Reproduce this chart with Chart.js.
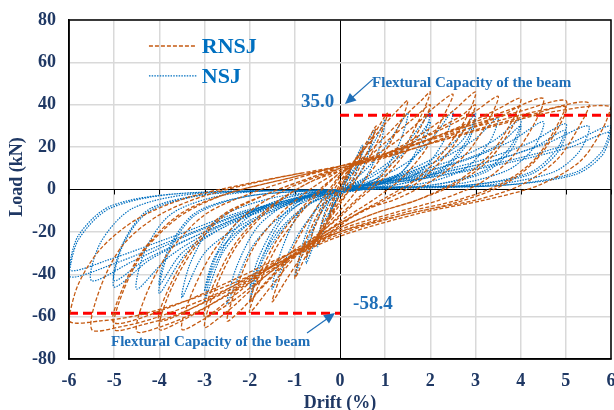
<!DOCTYPE html>
<html>
<head>
<meta charset="utf-8">
<script src="https://cdn.jsdelivr.net/npm/chart.js@4.4.1/dist/chart.umd.min.js"></script>
<style>
  html, body { margin: 0; padding: 0; background: #fff; }
</style>
</head>
<body>
<canvas id="myCanvas" width="614" height="410"></canvas>
<script>
// axis ticks
const driftTicks = [-6, -5, -4, -3, -2, -1, 0, 1, 2, 3, 4, 5, 6];
const loadTicks = [-80, -60, -40, -20, 0, 20, 40, 60, 80];

// RNSJ hysteresis cycles, [drift %, load kN]
const rnsj1 = [[0,0],[0.1,5],[0.25,11],[0.15,5],[0,-2],[-0.1,-7],[-0.25,-14],[-0.15,-6],[0,1]];
const rnsj2 = [[0,1],[0.25,10],[0.5,19],[0.35,10],[0.15,2],[0,-5],[-0.25,-14],[-0.5,-24],[-0.35,-13],[-0.15,-4],[0,3]];
const rnsj3 = [[0,3],[0.3,13],[0.55,21],[0.8,30],[0.65,20],[0.4,9],[0.1,-3],[-0.2,-11],[-0.5,-22],[-0.75,-32],[-0.6,-20],[-0.35,-8],[-0.1,1],[0,4]];
const rnsj4 = [[0,4],[0.4,15],[0.75,26],[1.05,36],[0.9,26],[0.6,13],[0.3,3],[0,-7],[-0.4,-19],[-0.75,-31],[-1.0,-42],[-0.85,-29],[-0.55,-14],[-0.25,-2],[0,6]];
const rnsj5 = [[0,6],[0.5,18],[1.0,31],[1.3,38],[1.5,42],[1.35,32],[1.0,18],[0.6,6],[0.2,-5],[-0.3,-17],[-0.8,-30],[-1.2,-43],[-1.5,-53],[-1.3,-40],[-0.95,-24],[-0.5,-8],[0,7]];
const rnsj6 = [[0,7],[0.5,15],[1.0,25],[1.5,36],[1.8,42],[2.0,46],[1.8,35],[1.4,19],[0.9,6],[0.4,-4],[0,-12],[-0.5,-22],[-1.0,-32],[-1.5,-45],[-2.0,-58],[-1.8,-45],[-1.4,-27],[-0.9,-12],[-0.4,0],[0,8]];
const rnsj6b = [[0,8],[0.6,15],[1.1,24],[1.6,33],[2.0,40],[1.8,30],[1.4,16],[0.9,4],[0.4,-5],[0,-13],[-0.6,-23],[-1.2,-34],[-1.7,-45],[-2.0,-53],[-1.8,-41],[-1.4,-24],[-0.9,-10],[-0.4,1],[0,8]];
const rnsj7 = [[0,8],[0.6,14],[1.2,22],[1.7,31],[2.1,39],[2.5,45],[2.3,35],[1.9,19],[1.4,6],[0.8,-4],[0,-15],[-0.6,-25],[-1.2,-35],[-1.8,-48],[-2.2,-57],[-2.5,-62],[-2.3,-47],[-1.9,-27],[-1.3,-11],[-0.6,1],[0,9]];
const rnsj8 = [[0,9],[0.7,14],[1.4,21],[2.0,29],[2.5,37],[3.0,46],[2.8,34],[2.3,18],[1.7,5],[1.0,-4],[0,-16],[-0.8,-27],[-1.6,-40],[-2.3,-54],[-2.7,-61],[-3.0,-65],[-2.8,-49],[-2.3,-27],[-1.6,-10],[-0.8,2],[0,9]];
const rnsj8b = [[0,9],[0.8,15],[1.5,21],[2.2,29],[2.7,35],[3.0,40],[2.8,30],[2.3,15],[1.7,3],[1.0,-5],[0,-16],[-0.9,-27],[-1.7,-39],[-2.4,-51],[-3.0,-60],[-2.8,-45],[-2.3,-25],[-1.6,-9],[-0.8,2],[0,10]];
const rnsj9 = [[0,10],[0.8,15],[1.6,22],[2.4,30],[3.0,37],[3.5,44],[3.3,33],[2.8,17],[2.1,5],[1.3,-4],[0.5,-10],[0,-17],[-0.8,-28],[-1.6,-40],[-2.4,-53],[-3.0,-61],[-3.5,-66],[-3.3,-50],[-2.8,-29],[-2.1,-12],[-1.2,0],[0,10]];
const rnsj10 = [[0,10],[1.0,16],[2.0,24],[2.8,31],[3.5,38],[4.0,43],[3.8,32],[3.3,16],[2.6,4],[1.7,-5],[0.8,-11],[0,-18],[-1.0,-30],[-2.0,-43],[-3.0,-56],[-3.6,-63],[-4.0,-66],[-3.8,-50],[-3.3,-30],[-2.6,-13],[-1.6,-2],[-0.6,6],[0,10]];
const rnsj10b = [[0,10],[1.0,15],[2.0,22],[3.0,30],[3.6,35],[4.0,39],[3.8,29],[3.3,14],[2.6,3],[1.7,-5],[0.8,-11],[0,-18],[-1.0,-29],[-2.0,-41],[-3.0,-53],[-4.0,-62],[-3.8,-47],[-3.3,-28],[-2.6,-12],[-1.6,-2],[-0.6,6],[0,11]];
const rnsj11 = [[0,11],[1.0,17],[2.0,24],[3.0,32],[3.8,38],[4.5,43],[4.3,31],[3.8,15],[3.1,3],[2.2,-5],[1.2,-11],[0,-19],[-1.0,-31],[-2.0,-44],[-3.2,-58],[-4.0,-65],[-4.5,-67],[-4.3,-50],[-3.8,-30],[-3.0,-12],[-2.0,-2],[-1.0,5],[0,11]];
const rnsj12 = [[0,11],[1.0,17],[2.0,24],[3.0,31],[4.0,37],[5.0,42],[4.8,30],[4.3,14],[3.6,3],[2.6,-5],[1.4,-11],[0,-20],[-1.2,-33],[-2.4,-47],[-3.6,-59],[-4.4,-64],[-5.0,-66],[-4.8,-48],[-4.3,-28],[-3.5,-12],[-2.5,-2],[-1.2,5],[0,11]];
const rnsj12b = [[0,11],[1.1,16],[2.2,23],[3.3,30],[4.2,35],[5.0,39],[4.8,28],[4.3,13],[3.6,2],[2.6,-6],[1.4,-12],[0,-20],[-1.2,-31],[-2.4,-43],[-3.7,-55],[-5.0,-63],[-4.8,-46],[-4.3,-27],[-3.5,-11],[-2.5,-2],[-1.2,5],[0,11]];
const rnsj13 = [[0,11],[1.2,18],[2.4,26],[3.6,33],[4.6,38],[5.5,41],[5.3,30],[4.8,14],[4.0,2],[3.0,-5],[1.6,-11],[0,-21],[-1.3,-34],[-2.6,-48],[-4.0,-60],[-4.9,-65],[-5.5,-66],[-5.3,-46],[-4.8,-26],[-4.0,-12],[-3.0,-3],[-1.5,5],[0,11]];
const rnsj14 = [[0,11],[1.2,17],[2.4,24],[3.6,31],[4.8,37],[6.0,39],[5.8,28],[5.3,13],[4.4,2],[3.2,-5],[1.8,-11],[0,-22],[-1.4,-35],[-2.8,-48],[-4.4,-59],[-5.3,-62],[-6.0,-62],[-5.8,-45],[-5.3,-28],[-4.5,-14],[-3.4,-4],[-2.0,3],[-0.8,8]];

// NSJ hysteresis cycles
const nsj1 = [[0,0],[0.12,5],[0.25,10],[0.15,4],[0,-1],[-0.12,-6],[-0.25,-13],[-0.15,-5],[0,0]];
const nsj2 = [[0,0],[0.25,10],[0.5,21],[0.4,11],[0.2,2],[0,-2],[-0.25,-13],[-0.5,-27],[-0.4,-15],[-0.2,-4],[0,0]];
const nsj3 = [[0,0],[0.4,13],[0.75,28],[0.6,15],[0.3,3],[0,-3],[-0.4,-17],[-0.75,-35],[-0.6,-20],[-0.3,-5],[0,0]];
const nsj4 = [[0,0],[0.5,14],[0.8,24],[1.0,33],[0.85,18],[0.5,4],[0.1,0],[-0.3,-7],[-0.7,-23],[-1.0,-41],[-0.8,-24],[-0.5,-8],[-0.2,-2],[0,0]];
const nsj5 = [[0,0],[0.5,8],[1.0,20],[1.5,36],[1.3,21],[0.9,7],[0.4,1],[0,-2],[-0.5,-9],[-1.0,-24],[-1.5,-47],[-1.3,-29],[-0.9,-11],[-0.4,-3],[0,0]];
const nsj6 = [[0,0],[0.6,6],[1.2,15],[1.6,25],[2.0,36],[1.8,23],[1.4,9],[0.8,2],[0,-1],[-0.6,-6],[-1.2,-17],[-1.7,-33],[-2.0,-53],[-1.8,-36],[-1.3,-15],[-0.7,-4],[0,0]];
const nsj6b = [[0,0],[0.7,6],[1.3,15],[1.7,24],[2.0,32],[1.8,20],[1.3,7],[0.7,1],[0,-2],[-0.7,-7],[-1.3,-18],[-1.7,-31],[-2.0,-47],[-1.8,-32],[-1.3,-13],[-0.7,-3],[0,0]];
const nsj7 = [[0,0],[0.8,5],[1.5,13],[2.0,23],[2.5,37],[2.3,23],[1.8,9],[1.0,2],[0,-1],[-0.8,-6],[-1.5,-16],[-2.0,-29],[-2.5,-54],[-2.3,-37],[-1.8,-17],[-1.0,-5],[0,0]];
const nsj8 = [[0,0],[1.0,5],[2.0,14],[2.6,24],[3.0,36],[2.8,23],[2.2,9],[1.2,2],[0,0],[-1.0,-6],[-2.0,-16],[-2.6,-30],[-3.0,-53],[-2.8,-37],[-2.2,-16],[-1.2,-4],[0,0]];
const nsj8b = [[0,0],[1.1,5],[2.1,13],[2.7,23],[3.0,33],[2.8,21],[2.2,8],[1.2,2],[0,-1],[-1.1,-7],[-2.1,-17],[-2.7,-30],[-3.0,-48],[-2.8,-33],[-2.2,-14],[-1.2,-4],[0,0]];
const nsj9 = [[0,0],[1.2,6],[2.2,14],[3.0,24],[3.5,34],[3.3,22],[2.7,9],[1.6,2],[0,0],[-1.2,-7],[-2.2,-17],[-3.0,-30],[-3.5,-51],[-3.3,-34],[-2.7,-14],[-1.5,-4],[0,0]];
const nsj10 = [[0,0],[1.3,6],[2.5,14],[3.4,23],[4.0,33],[3.8,21],[3.2,9],[2.0,2],[0,0],[-1.3,-7],[-2.5,-17],[-3.4,-30],[-4.0,-49],[-3.8,-30],[-3.2,-12],[-2.0,-3],[0,0]];
const nsj10b = [[0,0],[1.4,6],[2.6,13],[3.5,21],[4.0,30],[3.8,19],[3.2,8],[2.0,2],[0,-1],[-1.4,-8],[-2.6,-18],[-3.5,-30],[-4.0,-45],[-3.8,-28],[-3.2,-11],[-2.0,-3],[0,0]];
const nsj11 = [[0,0],[1.5,6],[2.8,14],[3.8,23],[4.5,32],[4.3,20],[3.7,9],[2.4,2],[0,0],[-1.5,-8],[-2.8,-19],[-3.8,-32],[-4.5,-47],[-4.3,-28],[-3.7,-11],[-2.4,-2],[0,0]];
const nsj12 = [[0,0],[1.6,6],[3.0,13],[4.2,22],[5.0,31],[4.8,19],[4.2,8],[2.8,2],[0,0],[-1.6,-8],[-3.0,-20],[-4.2,-33],[-5.0,-46],[-4.8,-26],[-4.2,-10],[-2.8,-2],[0,0]];
const nsj12b = [[0,0],[1.7,6],[3.1,12],[4.3,20],[5.0,28],[4.8,17],[4.2,7],[2.8,2],[0,-1],[-1.7,-9],[-3.1,-21],[-4.3,-33],[-5.0,-43],[-4.8,-25],[-4.2,-9],[-2.8,-2],[0,0]];
const nsj13 = [[0,0],[1.8,6],[3.3,13],[4.6,22],[5.5,30],[5.3,18],[4.7,8],[3.2,2],[0,0],[-1.8,-9],[-3.3,-21],[-4.6,-34],[-5.5,-43],[-5.3,-25],[-4.6,-9],[-3.2,-2],[0,0]];
const nsj14 = [[0,0],[2.0,6],[3.6,13],[5.0,21],[6.0,30],[5.8,18],[5.2,8],[3.6,2],[0,0],[-2.0,-10],[-3.6,-23],[-5.0,-35],[-6.0,-41],[-5.8,-24],[-5.1,-9],[-3.6,-2],[0,0]];
const nsj14b = [[0,0],[2.1,6],[3.8,13],[5.1,20],[6.0,27],[5.8,16],[5.2,7],[3.6,2],[0,-1],[-2.1,-10],[-3.8,-23],[-5.1,-33],[-6.0,-38],[-5.8,-22],[-5.1,-8],[-3.6,-2],[0,0]];

// flexural capacity of the beam
const capPosDrift = [0, 6];
const capPosLoad = 35.0;
const capNegDrift = [-6, 0];
const capNegLoad = -58.4;

const rnsjCycles = [rnsj1, rnsj2, rnsj3, rnsj4, rnsj5, rnsj6, rnsj6b, rnsj7, rnsj8, rnsj8b, rnsj9, rnsj10, rnsj10b, rnsj11, rnsj12, rnsj12b, rnsj13, rnsj14];
const nsjCycles = [nsj1, nsj2, nsj3, nsj4, nsj5, nsj6, nsj6b, nsj7, nsj8, nsj8b, nsj9, nsj10, nsj10b, nsj11, nsj12, nsj12b, nsj13, nsj14, nsj14b];

const toPts = cycles => cycles.flat().map(p => ({ x: p[0], y: p[1] }));

const ORANGE = "#c55a11";
const BLUE = "#0070c0";
const NAVY = "#1f3864";
const TXTBLUE = "#1f6fb8";
const serif = "'Liberation Serif', 'Times New Roman', serif";

// annotations, legend, plot frame
const extras = {
  id: "extras",
  beforeDatasetsDraw(chart) {
    const { ctx, scales: { x, y } } = chart;
    ctx.save();
    ctx.strokeStyle = "#000";
    ctx.lineWidth = 1;
    const y0 = y.getPixelForValue(0);
    driftTicks.forEach(v => {
      const px = Math.round(x.getPixelForValue(v)) + 0.5;
      ctx.beginPath(); ctx.moveTo(px, y0); ctx.lineTo(px, y0 + 5); ctx.stroke();
    });
    ctx.restore();
  },
  afterDraw(chart) {
    const { ctx, chartArea: a, scales: { x, y } } = chart;
    ctx.save();
    // frame
    ctx.strokeStyle = "#000";
    ctx.lineWidth = 1.5;
    ctx.strokeRect(a.left, a.top, a.right - a.left, a.bottom - a.top);

    // y axis title
    ctx.save();
    ctx.translate(17, 177);
    ctx.rotate(-Math.PI / 2);
    ctx.fillStyle = NAVY;
    ctx.font = "bold 18px " + serif;
    ctx.textAlign = "center";
    ctx.textBaseline = "middle";
    ctx.fillText("Load (kN)", 0, 0);
    ctx.restore();

    // legend
    const legend = [["RNSJ", ORANGE, [4, 2], 1.4, 67.7], ["NSJ", BLUE, [1.5, 1.2], 1.2, 53.6]];
    legend.forEach(([label, col, dash, w, ly]) => {
      const py = y.getPixelForValue(ly);
      ctx.setLineDash(dash);
      ctx.strokeStyle = col;
      ctx.lineWidth = w;
      ctx.beginPath();
      ctx.moveTo(x.getPixelForValue(-4.23), py);
      ctx.lineTo(x.getPixelForValue(-3.17), py);
      ctx.stroke();
      ctx.setLineDash([]);
      ctx.fillStyle = BLUE;
      ctx.font = "bold 22px " + serif;
      ctx.textBaseline = "middle";
      ctx.textAlign = "left";
      ctx.fillText(label, x.getPixelForValue(-3.06), py + 1);
    });

    // capacity labels
    ctx.fillStyle = TXTBLUE;
    ctx.font = "bold 15px " + serif;
    ctx.textAlign = "left";
    ctx.fillText("Flextural Capacity of the beam", x.getPixelForValue(0.71), y.getPixelForValue(50.3));
    ctx.fillText("Flextural Capacity of the beam", x.getPixelForValue(-5.07), y.getPixelForValue(-72));
    ctx.font = "bold 19px " + serif;
    ctx.textAlign = "right";
    ctx.fillText("35.0", x.getPixelForValue(-0.13), y.getPixelForValue(41.3));
    ctx.textAlign = "left";
    ctx.fillText("-58.4", x.getPixelForValue(0.29), y.getPixelForValue(-54));

    // arrows
    const arrow = (tx, ty, hx, hy) => {
      const x1 = x.getPixelForValue(tx), y1 = y.getPixelForValue(ty);
      const x2 = x.getPixelForValue(hx), y2 = y.getPixelForValue(hy);
      const ang = Math.atan2(y2 - y1, x2 - x1);
      ctx.strokeStyle = TXTBLUE;
      ctx.fillStyle = TXTBLUE;
      ctx.lineWidth = 1.2;
      ctx.beginPath(); ctx.moveTo(x1, y1);
      ctx.lineTo(x2 - 8 * Math.cos(ang), y2 - 8 * Math.sin(ang)); ctx.stroke();
      ctx.beginPath();
      ctx.moveTo(x2, y2);
      ctx.lineTo(x2 - 11 * Math.cos(ang) + 5 * Math.sin(ang), y2 - 11 * Math.sin(ang) - 5 * Math.cos(ang));
      ctx.lineTo(x2 - 11 * Math.cos(ang) - 5 * Math.sin(ang), y2 - 11 * Math.sin(ang) + 5 * Math.cos(ang));
      ctx.closePath(); ctx.fill();
    };
    arrow(0.73, 52.1, 0.11, 40.3);
    arrow(-0.73, -67.7, -0.11, -58.3);
    ctx.restore();
  }
};

const canvas = document.getElementById("myCanvas");
const context = canvas.getContext("2d");
const chart = new Chart(context, {
  type: "scatter",
  data: {
    datasets: [
      {
        label: "RNSJ",
        data: toPts(rnsjCycles),
        showLine: true,
        borderColor: ORANGE,
        borderWidth: 1.3,
        borderDash: [4, 2],
        pointRadius: 0,
        tension: 0.3
      },
      {
        label: "NSJ",
        data: toPts(nsjCycles),
        showLine: true,
        borderColor: BLUE,
        borderWidth: 1.2,
        borderDash: [1.5, 1.2],
        pointRadius: 0,
        tension: 0.3
      },
      {
        label: "cap+",
        data: capPosDrift.map(d => ({ x: d, y: capPosLoad })),
        showLine: true,
        borderColor: "#ff0000",
        borderWidth: 3,
        borderDash: [9, 5],
        pointRadius: 0
      },
      {
        label: "cap-",
        data: capNegDrift.map(d => ({ x: d, y: capNegLoad })),
        showLine: true,
        borderColor: "#ff0000",
        borderWidth: 3,
        borderDash: [9, 5],
        pointRadius: 0
      }
    ]
  },
  options: {
    responsive: false,
    animation: false,
    layout: { padding: { top: 20, right: 3, left: 0, bottom: 0 } },
    plugins: { legend: { display: false }, tooltip: { enabled: false } },
    scales: {
      x: {
        type: "linear",
        min: -6,
        max: 6,
        afterBuildTicks: s => { s.ticks = driftTicks.map(v => ({ value: v })); },
        afterFit: s => { s.height = 51; s.paddingLeft = 0; s.paddingRight = 0; },
        ticks: { color: NAVY, font: { family: serif, size: 18, weight: "bold" }, padding: 12, maxRotation: 0, autoSkip: false },
        grid: {
          color: c => (c.tick && c.tick.value === 0 ? "#000" : "#d9d9d9"),
          lineWidth: c => (c.tick && c.tick.value === 0 ? 1 : 1.5),
          drawTicks: false
        },
        border: { display: true, color: "#000", width: 1.5 },
        title: { display: true, text: "Drift (%)", color: NAVY, font: { family: serif, size: 18, weight: "bold" }, padding: { top: 0, bottom: -4 } }
      },
      y: {
        type: "linear",
        min: -80,
        max: 80,
        afterBuildTicks: s => { s.ticks = loadTicks.map(v => ({ value: v })); },
        afterFit: s => { s.width = 69; s.paddingTop = 0; s.paddingBottom = 0; },
        ticks: { color: NAVY, font: { family: serif, size: 18, weight: "bold" }, padding: 13 },
        grid: {
          color: c => (c.tick && c.tick.value === 0 ? "#000" : "#d9d9d9"),
          lineWidth: c => (c.tick && c.tick.value === 0 ? 1 : 1.5),
          drawTicks: false
        },
        border: { display: true, color: "#000", width: 1.5 },
        title: { display: false }
      }
    }
  },
  plugins: [extras]
});
</script>
</body>
</html>
